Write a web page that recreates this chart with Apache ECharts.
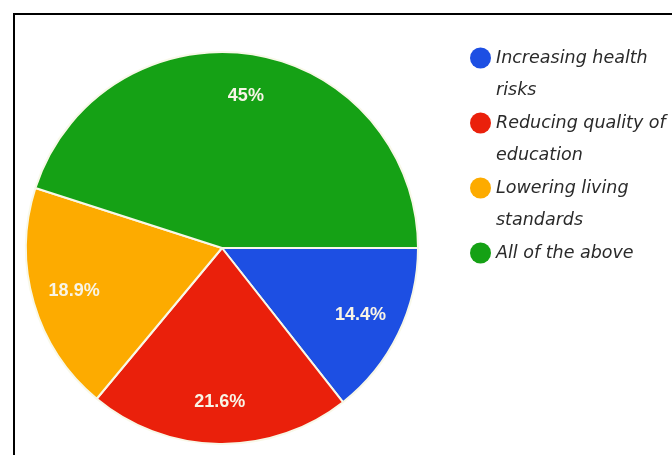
<!DOCTYPE html>
<html>
<head>
<meta charset="utf-8">
<script src="https://cdn.jsdelivr.net/npm/echarts@6/dist/echarts.min.js"></script>
<style>
  html, body { margin: 0; padding: 0; background: #fff; }
  #wrap { position: relative; width: 672px; height: 455px; overflow: hidden; }
  #frame { position: absolute; left: 13px; top: 13px; width: 700px; height: 500px;
           border-left: 2px solid #000; border-top: 2px solid #000; pointer-events: none; }
  #chart { position: absolute; left: 0; top: 0; width: 672px; height: 455px; }
</style>
</head>
<body>
<div id="wrap">
  <div id="chart"></div>
  <div id="frame"></div>
</div>
<script>
const categories = ['Increasing health risks', 'Reducing quality of education', 'Lowering living standards', 'All of the above'];
const legendLabels = ['Increasing health\nrisks', 'Reducing quality of\neducation', 'Lowering living\nstandards', 'All of the above\n '];
const values = [14.4, 21.6, 18.9, 45];
const colors = ['#1d4fe3', '#ea200b', '#fdab00', '#15a115'];

const iconPath = 'path://M10.5,0L10.5,0M10.5,64L10.5,64M0,16A10.5,10.5,0,1,1,21,16A10.5,10.5,0,1,1,0,16Z';

const pieData = categories.map((name, i) => ({ name: name, value: values[i], itemStyle: { color: colors[i] } }));
const labelData = categories.map((name, i) => ({ name: name, value: values[i] }));

const chart = echarts.init(document.getElementById('chart'), null, { renderer: 'canvas' });
chart.setOption({
  animation: false,
  backgroundColor: '#ffffff',
  legend: {
    orient: 'vertical',
    left: 465,
    top: 37,
    itemWidth: 21,
    itemHeight: 64,
    itemGap: 1,
    icon: iconPath,
    selectedMode: false,
    itemStyle: { borderWidth: 0 },
    formatter: function (name) { return legendLabels[categories.indexOf(name)]; },
    textStyle: {
      fontFamily: 'DejaVu Sans',
      fontStyle: 'italic',
      fontSize: 17.5,
      lineHeight: 32,
      color: '#2a2a2a'
    },
    data: categories
  },
  series: [
    {
      type: 'pie',
      center: [222, 248],
      radius: [0, 196],
      startAngle: 0,
      clockwise: true,
      avoidLabelOverlap: false,
      silent: true,
      label: { show: false },
      labelLine: { show: false },
      itemStyle: { borderColor: '#f8f8e8', borderWidth: 2 },
      data: pieData
    },
    {
      type: 'pie',
      center: [222, 248],
      radius: [106, 196],
      startAngle: 0,
      clockwise: true,
      avoidLabelOverlap: false,
      silent: true,
      itemStyle: { color: 'rgba(0,0,0,0)', borderWidth: 0 },
      label: {
        show: true,
        position: 'inside',
        formatter: '{c}%',
        color: '#f8f4e6',
        fontFamily: 'Liberation Sans',
        fontWeight: 'bold',
        fontSize: 18
      },
      labelLine: { show: false },
      data: labelData
    }
  ]
});
</script>
</body>
</html>
